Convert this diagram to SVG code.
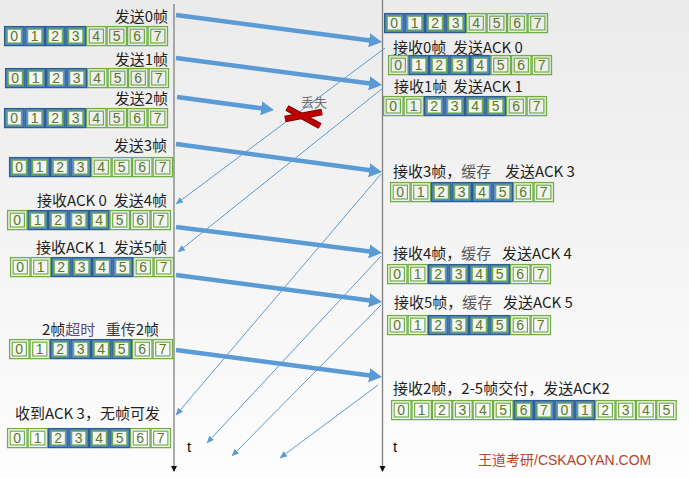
<svg xmlns="http://www.w3.org/2000/svg" xmlns:xlink="http://www.w3.org/1999/xlink" width="689" height="478" viewBox="0 0 689 478">
<style>
.lbl{font-family:"Noto Sans CJK SC","Noto Sans",sans-serif;font-size:15px;fill:#1f1f1f}
.dg{font-family:"Liberation Sans","Noto Sans",sans-serif;font-size:14px;fill:#587A2A;text-anchor:middle}
.thick{stroke:#5B9BD5;stroke-width:4.5;fill:none;marker-end:url(#bigHead)}
.thin{stroke:#5B9BD5;stroke-width:1;fill:none;marker-end:url(#smallHead)}
.tl{stroke:#808080;stroke-width:1.3;fill:none;marker-end:url(#tlHead)}
.tt{font-family:"Liberation Sans",sans-serif;font-size:15px;fill:#111}
</style>
<defs>
<linearGradient id="bg" x1="0" y1="0" x2="0" y2="1">
<stop offset="0" stop-color="#EBEBEB"/>
<stop offset="1" stop-color="#FDFDFD"/>
</linearGradient>
<marker id="bigHead" markerUnits="userSpaceOnUse" markerWidth="14" markerHeight="14" refX="3" refY="7" orient="auto">
<path d="M0,0 L13,7 L0,14 z" fill="#5B9BD5"/>
</marker>
<marker id="smallHead" markerUnits="userSpaceOnUse" markerWidth="8" markerHeight="7" refX="7" refY="3.2" orient="auto">
<path d="M0,0 L7.5,3.2 L0,6.4 z" fill="#5B9BD5"/>
</marker>
<marker id="tlHead" markerUnits="userSpaceOnUse" markerWidth="7" markerHeight="7" refX="5" refY="3" orient="auto">
<path d="M0,0 L6,3 L0,6 z" fill="#111"/>
</marker>
<g id="gc">
<rect x="0.6" y="0.6" width="19.4" height="19" fill="none" stroke="#70AD47" stroke-width="1.3"/>
<rect x="3.2" y="3.2" width="14.2" height="13.8" fill="none" stroke="#70AD47" stroke-width="1.2"/>
</g>
<g id="bc">
<rect x="0.6" y="0.6" width="19.4" height="19" fill="#4F89C6" stroke="#2F5C8F" stroke-width="1.3"/>
<rect x="3.2" y="3.2" width="14.2" height="13.8" fill="#F4F4F4" stroke="#70AD47" stroke-width="1.2"/>
</g>
</defs>
<rect width="689" height="478" fill="url(#bg)"/>

<g id="timelines">
<line class="tl" x1="174" y1="4" x2="174" y2="471"/>
<line class="tl" x1="382.5" y1="0" x2="382.5" y2="471"/>
<text class="tt" x="187" y="452">t</text>
<text class="tt" x="393" y="452">t</text>
</g>

<g id="connectors">
<line class="thick" x1="176" y1="15" x2="372.1" y2="40.7"/>
<line class="thick" x1="176" y1="58" x2="372.1" y2="83.7"/>
<line class="thick" x1="177" y1="97" x2="264.1" y2="108.7"/>
<line class="thick" x1="176" y1="144" x2="372.1" y2="170.6"/>
<line class="thick" x1="176" y1="227" x2="372.1" y2="251.7"/>
<line class="thick" x1="176" y1="275" x2="372.1" y2="300.7"/>
<line class="thick" x1="176" y1="350" x2="372.1" y2="375.7"/>
<line class="thin" x1="385" y1="48" x2="176" y2="204"/>
<line class="thin" x1="383" y1="88" x2="178" y2="252"/>
<line class="thin" x1="381" y1="174" x2="176" y2="415"/>
<line class="thin" x1="381" y1="256" x2="207" y2="443"/>
<line class="thin" x1="381" y1="305" x2="232" y2="456"/>
<line class="thin" x1="378" y1="385" x2="280" y2="458"/>
</g>

<g id="lost">
<line x1="287" y1="108" x2="320" y2="126" stroke="#7A0000" stroke-width="6.5"/>
<line x1="285" y1="119" x2="322" y2="112" stroke="#7A0000" stroke-width="6.5"/>
<line x1="287" y1="108" x2="320" y2="126" stroke="#C00000" stroke-width="4.5"/>
<line x1="285" y1="119" x2="322" y2="112" stroke="#C00000" stroke-width="4.5"/>
<text x="301" y="107" style="font-family:'Noto Sans CJK SC',sans-serif;font-size:13px;fill:#707070">丢失</text>
</g>

<g id="s0">
<text class="lbl" x="168" y="22" text-anchor="end">发送0帧</text>
<use href="#bc" x="4" y="26"/><use href="#bc" x="24.5" y="26"/><use href="#bc" x="45" y="26"/><use href="#bc" x="65.5" y="26"/>
<use href="#gc" x="86" y="26"/><use href="#gc" x="106.5" y="26"/><use href="#gc" x="127" y="26"/><use href="#gc" x="147.5" y="26"/>
<text class="dg" x="14.25 34.75 55.25 75.75 96.25 116.75 137.25 157.75" y="41">01234567</text>
</g>

<g id="s1">
<text class="lbl" x="168" y="65" text-anchor="end">发送1帧</text>
<use href="#bc" x="5" y="68"/><use href="#bc" x="25.5" y="68"/><use href="#bc" x="46" y="68"/><use href="#bc" x="66.5" y="68"/>
<use href="#gc" x="87" y="68"/><use href="#gc" x="107.5" y="68"/><use href="#gc" x="128" y="68"/><use href="#gc" x="148.5" y="68"/>
<text class="dg" x="15.25 35.75 56.25 76.75 97.25 117.75 138.25 158.75" y="83">01234567</text>
</g>

<g id="s2">
<text class="lbl" x="168" y="104" text-anchor="end">发送2帧</text>
<use href="#bc" x="4" y="108"/><use href="#bc" x="24.5" y="108"/><use href="#bc" x="45" y="108"/><use href="#bc" x="65.5" y="108"/>
<use href="#gc" x="86" y="108"/><use href="#gc" x="106.5" y="108"/><use href="#gc" x="127" y="108"/><use href="#gc" x="147.5" y="108"/>
<text class="dg" x="14.25 34.75 55.25 75.75 96.25 116.75 137.25 157.75" y="123">01234567</text>
</g>

<g id="s3">
<text class="lbl" x="167" y="151" text-anchor="end">发送3帧</text>
<use href="#bc" x="9" y="157"/><use href="#bc" x="29.5" y="157"/><use href="#bc" x="50" y="157"/><use href="#bc" x="70.5" y="157"/>
<use href="#gc" x="91" y="157"/><use href="#gc" x="111.5" y="157"/><use href="#gc" x="132" y="157"/><use href="#gc" x="152.5" y="157"/>
<text class="dg" x="19.25 39.75 60.25 80.75 101.25 121.75 142.25 162.75" y="172">01234567</text>
</g>

<g id="s4">
<text class="lbl" x="37" y="206">接收ACK 0</text>
<text class="lbl" x="167" y="206" text-anchor="end">发送4帧</text>
<use href="#gc" x="7" y="210"/><use href="#bc" x="27.5" y="210"/><use href="#bc" x="48" y="210"/><use href="#bc" x="68.5" y="210"/>
<use href="#bc" x="89" y="210"/><use href="#gc" x="109.5" y="210"/><use href="#gc" x="130" y="210"/><use href="#gc" x="150.5" y="210"/>
<text class="dg" x="17.25 37.75 58.25 78.75 99.25 119.75 140.25 160.75" y="225">01234567</text>
</g>

<g id="s5">
<text class="lbl" x="36" y="253">接收ACK 1</text>
<text class="lbl" x="167" y="253" text-anchor="end">发送5帧</text>
<use href="#gc" x="10" y="257"/><use href="#gc" x="30.5" y="257"/><use href="#bc" x="51" y="257"/><use href="#bc" x="71.5" y="257"/>
<use href="#bc" x="92" y="257"/><use href="#bc" x="112.5" y="257"/><use href="#gc" x="133" y="257"/><use href="#gc" x="153.5" y="257"/>
<text class="dg" x="20.25 40.75 61.25 81.75 102.25 122.75 143.25 163.75" y="272">01234567</text>
</g>

<g id="s6">
<text class="lbl" x="42" y="335">2帧<tspan fill="#5F497A">超时</tspan></text>
<text class="lbl" x="159" y="335" text-anchor="end"><tspan fill="#404040">重传</tspan>2帧</text>
<use href="#gc" x="9" y="339"/><use href="#gc" x="29.5" y="339"/><use href="#bc" x="50" y="339"/><use href="#bc" x="70.5" y="339"/>
<use href="#bc" x="91" y="339"/><use href="#bc" x="111.5" y="339"/><use href="#gc" x="132" y="339"/><use href="#gc" x="152.5" y="339"/>
<text class="dg" x="19.25 39.75 60.25 80.75 101.25 121.75 142.25 162.75" y="354">01234567</text>
</g>

<g id="s7">
<text class="lbl" x="15" y="419">收到ACK 3，无帧可发</text>
<use href="#gc" x="7" y="428"/><use href="#gc" x="27.5" y="428"/><use href="#bc" x="48" y="428"/><use href="#bc" x="68.5" y="428"/>
<use href="#bc" x="89" y="428"/><use href="#bc" x="109.5" y="428"/><use href="#gc" x="130" y="428"/><use href="#gc" x="150.5" y="428"/>
<text class="dg" x="17.25 37.75 58.25 78.75 99.25 119.75 140.25 160.75" y="443">01234567</text>
</g>

<g id="r0">
<use href="#bc" x="384" y="13"/><use href="#bc" x="404.5" y="13"/><use href="#bc" x="425" y="13"/><use href="#bc" x="445.5" y="13"/>
<use href="#gc" x="466" y="13"/><use href="#gc" x="486.5" y="13"/><use href="#gc" x="507" y="13"/><use href="#gc" x="527.5" y="13"/>
<text class="dg" x="394.25 414.75 435.25 455.75 476.25 496.75 517.25 537.75" y="28">01234567</text>
</g>

<g id="r1">
<text class="lbl" x="393" y="53">接收0帧</text>
<text class="lbl" x="453" y="53">发送ACK 0</text>
<use href="#gc" x="388" y="55"/><use href="#bc" x="408.5" y="55"/><use href="#bc" x="429" y="55"/><use href="#bc" x="449.5" y="55"/>
<use href="#bc" x="470" y="55"/><use href="#gc" x="490.5" y="55"/><use href="#gc" x="511" y="55"/><use href="#gc" x="531.5" y="55"/>
<text class="dg" x="398.25 418.75 439.25 459.75 480.25 500.75 521.25 541.75" y="70">01234567</text>
</g>

<g id="r2">
<text class="lbl" x="394" y="92">接收1帧</text>
<text class="lbl" x="453" y="92">发送ACK 1</text>
<use href="#gc" x="383" y="96"/><use href="#gc" x="403.5" y="96"/><use href="#bc" x="424" y="96"/><use href="#bc" x="444.5" y="96"/>
<use href="#bc" x="465" y="96"/><use href="#bc" x="485.5" y="96"/><use href="#gc" x="506" y="96"/><use href="#gc" x="526.5" y="96"/>
<text class="dg" x="393.25 413.75 434.25 454.75 475.25 495.75 516.25 536.75" y="111">01234567</text>
</g>

<g id="r3">
<text class="lbl" x="393" y="177">接收3帧，<tspan fill="#595959">缓存</tspan></text>
<text class="lbl" x="505" y="177">发送ACK 3</text>
<use href="#gc" x="390" y="182"/><use href="#gc" x="410.5" y="182"/><use href="#bc" x="431" y="182"/><use href="#bc" x="451.5" y="182"/>
<use href="#bc" x="472" y="182"/><use href="#bc" x="492.5" y="182"/><use href="#gc" x="513" y="182"/><use href="#gc" x="533.5" y="182"/>
<text class="dg" x="400.25 420.75 441.25 461.75 482.25 502.75 523.25 543.75" y="197">01234567</text>
</g>

<g id="r4">
<text class="lbl" x="393" y="259">接收4帧，<tspan fill="#595959">缓存</tspan></text>
<text class="lbl" x="502" y="259">发送ACK 4</text>
<use href="#gc" x="387" y="264"/><use href="#gc" x="407.5" y="264"/><use href="#bc" x="428" y="264"/><use href="#bc" x="448.5" y="264"/>
<use href="#bc" x="469" y="264"/><use href="#bc" x="489.5" y="264"/><use href="#gc" x="510" y="264"/><use href="#gc" x="530.5" y="264"/>
<text class="dg" x="397.25 417.75 438.25 458.75 479.25 499.75 520.25 540.75" y="279">01234567</text>
</g>

<g id="r5">
<text class="lbl" x="394" y="308">接收5帧，<tspan fill="#595959">缓存</tspan></text>
<text class="lbl" x="503" y="308">发送ACK 5</text>
<use href="#gc" x="387" y="315"/><use href="#gc" x="407.5" y="315"/><use href="#bc" x="428" y="315"/><use href="#bc" x="448.5" y="315"/>
<use href="#bc" x="469" y="315"/><use href="#bc" x="489.5" y="315"/><use href="#gc" x="510" y="315"/><use href="#gc" x="530.5" y="315"/>
<text class="dg" x="397.25 417.75 438.25 458.75 479.25 499.75 520.25 540.75" y="330">01234567</text>
</g>

<g id="r6">
<text class="lbl" x="393" y="394">接收2帧，2-5帧交付，发送ACK2</text>
<use href="#gc" x="391" y="400"/><use href="#gc" x="411.4" y="400"/><use href="#gc" x="431.8" y="400"/><use href="#gc" x="452.2" y="400"/>
<use href="#gc" x="472.6" y="400"/><use href="#gc" x="493" y="400"/><use href="#bc" x="513.4" y="400"/><use href="#bc" x="533.8" y="400"/>
<use href="#bc" x="554.2" y="400"/><use href="#bc" x="574.6" y="400"/><use href="#gc" x="595" y="400"/><use href="#gc" x="615.4" y="400"/>
<use href="#gc" x="635.8" y="400"/><use href="#gc" x="656.2" y="400"/>
<text class="dg" x="401.2 421.6 442 462.4 482.8 503.2 523.6 544 564.4 584.8 605.2 625.6 646 666.4" y="415">01234567012345</text>
</g>

<g id="watermark">
<text x="478" y="465" style="font-family:'Liberation Sans','Noto Sans CJK SC',sans-serif;font-size:14px;fill:#B5442A">王道考研/CSKAOYAN.COM</text>
</g>
</svg>
